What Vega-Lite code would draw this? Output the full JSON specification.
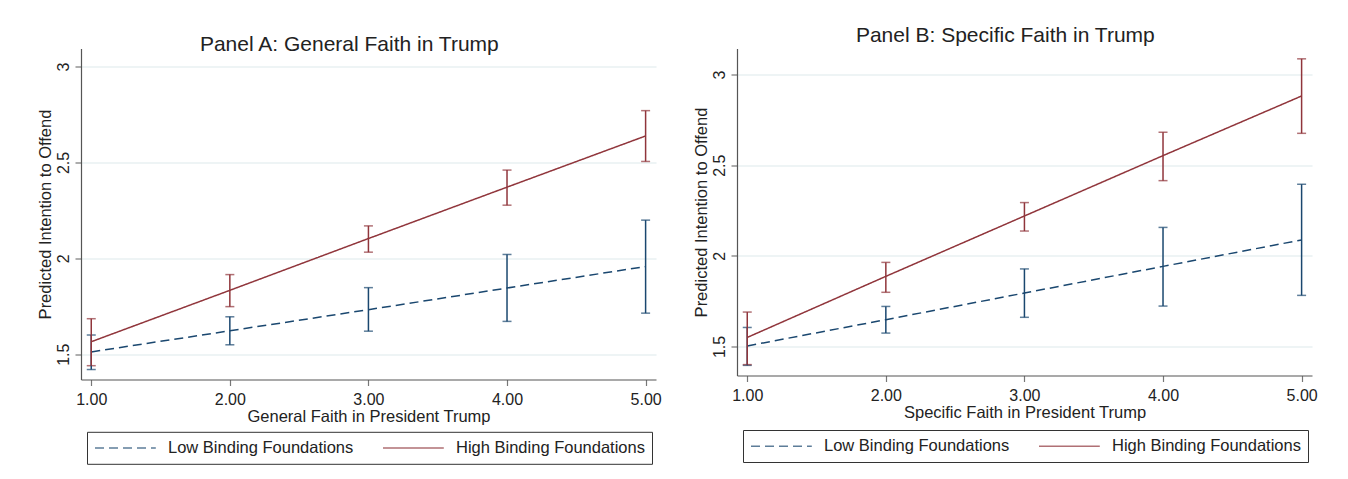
{
  "$schema": "https://vega.github.io/schema/vega-lite/v6.json",
  "background": "white",
  "padding": {"left": 37, "top": 24.5, "right": 5, "bottom": 5},
  "spacing": 31,
  "config": {
    "font": "Liberation Sans",
    "view": {"stroke": null},
    "axis": {
      "labelFont": "Liberation Sans",
      "titleFont": "Liberation Sans",
      "labelFontSize": 16,
      "titleFontSize": 16.5,
      "titleFontWeight": "normal",
      "labelColor": "#222222",
      "titleColor": "#222222",
      "domainColor": "#555555",
      "tickColor": "#777777",
      "tickSize": 6,
      "domainWidth": 1.2,
      "tickWidth": 1.2
    },
    "title": {"font": "Liberation Sans", "fontSize": 21, "fontWeight": "normal", "color": "#222222", "anchor": "middle", "frame": "bounds", "offset": 1},
    "legend": {
      "labelFont": "Liberation Sans",
      "labelFontSize": 16.5,
      "labelColor": "#222222",
      "labelLimit": 400,
      "symbolType": "M-1,0H6.6",
      "symbolSize": 256,
      "symbolStrokeWidth": 1.5,
      "strokeColor": "#333333",
      "padding": 7,
      "columnPadding": 26,
      "labelOffset": 56,
      "cornerRadius": 0
    }
  },
  "datasets": {
    "d": [
      {"panel": "A", "x": 1, "group": "Low Binding Foundations", "y": 1.512, "lo": 1.42, "hi": 1.60},
      {"panel": "A", "x": 1, "group": "High Binding Foundations", "y": 1.565, "lo": 1.44, "hi": 1.685},
      {"panel": "A", "x": 2, "group": "Low Binding Foundations", "y": 1.622, "lo": 1.549, "hi": 1.695},
      {"panel": "A", "x": 2, "group": "High Binding Foundations", "y": 1.833, "lo": 1.748, "hi": 1.915},
      {"panel": "A", "x": 3, "group": "Low Binding Foundations", "y": 1.732, "lo": 1.62, "hi": 1.847},
      {"panel": "A", "x": 3, "group": "High Binding Foundations", "y": 2.103, "lo": 2.032, "hi": 2.169},
      {"panel": "A", "x": 4, "group": "Low Binding Foundations", "y": 1.845, "lo": 1.671, "hi": 2.02},
      {"panel": "A", "x": 4, "group": "High Binding Foundations", "y": 2.371, "lo": 2.277, "hi": 2.46},
      {"panel": "A", "x": 5, "group": "Low Binding Foundations", "y": 1.957, "lo": 1.714, "hi": 2.199},
      {"panel": "A", "x": 5, "group": "High Binding Foundations", "y": 2.638, "lo": 2.505, "hi": 2.77},
      {"panel": "B", "x": 1, "group": "Low Binding Foundations", "y": 1.503, "lo": 1.396, "hi": 1.605},
      {"panel": "B", "x": 1, "group": "High Binding Foundations", "y": 1.55, "lo": 1.40, "hi": 1.69},
      {"panel": "B", "x": 2, "group": "Low Binding Foundations", "y": 1.648, "lo": 1.574, "hi": 1.721},
      {"panel": "B", "x": 2, "group": "High Binding Foundations", "y": 1.887, "lo": 1.799, "hi": 1.964},
      {"panel": "B", "x": 3, "group": "Low Binding Foundations", "y": 1.795, "lo": 1.661, "hi": 1.928},
      {"panel": "B", "x": 3, "group": "High Binding Foundations", "y": 2.22, "lo": 2.137, "hi": 2.294},
      {"panel": "B", "x": 4, "group": "Low Binding Foundations", "y": 1.942, "lo": 1.723, "hi": 2.157},
      {"panel": "B", "x": 4, "group": "High Binding Foundations", "y": 2.553, "lo": 2.415, "hi": 2.682},
      {"panel": "B", "x": 5, "group": "Low Binding Foundations", "y": 2.088, "lo": 1.782, "hi": 2.395},
      {"panel": "B", "x": 5, "group": "High Binding Foundations", "y": 2.882, "lo": 2.676, "hi": 3.087}
    ]
  },
  "resolve": {
    "scale": {"color": "independent", "strokeDash": "independent", "y": "independent", "x": "independent"},
    "legend": {"color": "independent", "strokeDash": "independent"}
  },
  "hconcat": [
    {
      "title": {"text": "Panel A: General Faith in Trump", "dy": 7},
      "width": 575,
      "height": 331,
      "data": {"name": "d"},
      "transform": [{"filter": "datum.panel == 'A'"}],
      "encoding": {
        "x": {"field": "x", "type": "quantitative", "scale": {"domain": [0.926, 5.075], "nice": false, "zero": false},
          "axis": {"values": [1, 2, 3, 4, 5], "format": ".2f", "grid": false, "title": "General Faith in President Trump", "labelPadding": 5.5, "titlePadding": 1}},
        "color": {"field": "group", "type": "nominal",
          "scale": {"domain": ["Low Binding Foundations", "High Binding Foundations"], "range": ["#1a476f", "#90353b"]},
          "legend": {"orient": "none", "legendX": 6, "legendY": 383.3, "direction": "horizontal", "title": null}}
      },
      "layer": [
        {
          "mark": {"type": "line", "strokeWidth": 1.5},
          "encoding": {
            "y": {"field": "y", "type": "quantitative", "scale": {"domain": [1.368, 3.094], "nice": false, "zero": false},
              "axis": {"values": [1.5, 2, 2.5, 3], "format": "~g", "labelAngle": 270, "grid": true, "gridColor": "#e8f0f2", "gridWidth": 1.5, "title": "Predicted Intention to Offend", "labelPadding": 3.5, "titlePadding": 2}},
            "strokeDash": {"field": "group", "type": "nominal",
              "scale": {"domain": ["Low Binding Foundations", "High Binding Foundations"], "range": [[9, 5], [1, 0]]},
              "legend": {"orient": "none", "legendX": 6, "legendY": 383.3, "direction": "horizontal", "title": null}}
          }
        },
        {
          "mark": {"type": "errorbar", "thickness": 1.5, "ticks": {"size": 9, "thickness": 1.5}},
          "encoding": {
            "y": {"field": "lo", "type": "quantitative", "title": "Predicted Intention to Offend"},
            "y2": {"field": "hi"}
          }
        }
      ]
    },
    {
      "title": {"text": "Panel B: Specific Faith in Trump", "dy": -2},
      "width": 575,
      "height": 327,
      "data": {"name": "d"},
      "transform": [{"filter": "datum.panel == 'B'"}],
      "encoding": {
        "x": {"field": "x", "type": "quantitative", "scale": {"domain": [0.926, 5.075], "nice": false, "zero": false},
          "axis": {"values": [1, 2, 3, 4, 5], "format": ".2f", "grid": false, "title": "Specific Faith in President Trump", "labelPadding": 5.5, "titlePadding": 1}},
        "color": {"field": "group", "type": "nominal",
          "scale": {"domain": ["Low Binding Foundations", "High Binding Foundations"], "range": ["#1a476f", "#90353b"]},
          "legend": {"orient": "none", "legendX": 6, "legendY": 381.5, "direction": "horizontal", "title": null}}
      },
      "layer": [
        {
          "mark": {"type": "line", "strokeWidth": 1.5},
          "encoding": {
            "y": {"field": "y", "type": "quantitative", "scale": {"domain": [1.34, 3.144], "nice": false, "zero": false},
              "axis": {"values": [1.5, 2, 2.5, 3], "format": "~g", "labelAngle": 270, "grid": true, "gridColor": "#e8f0f2", "gridWidth": 1.5, "title": "Predicted Intention to Offend", "labelPadding": 3.5, "titlePadding": 2}},
            "strokeDash": {"field": "group", "type": "nominal",
              "scale": {"domain": ["Low Binding Foundations", "High Binding Foundations"], "range": [[9, 5], [1, 0]]},
              "legend": {"orient": "none", "legendX": 6, "legendY": 381.5, "direction": "horizontal", "title": null}}
          }
        },
        {
          "mark": {"type": "errorbar", "thickness": 1.5, "ticks": {"size": 9, "thickness": 1.5}},
          "encoding": {
            "y": {"field": "lo", "type": "quantitative", "title": "Predicted Intention to Offend"},
            "y2": {"field": "hi"}
          }
        }
      ]
    }
  ]
}
